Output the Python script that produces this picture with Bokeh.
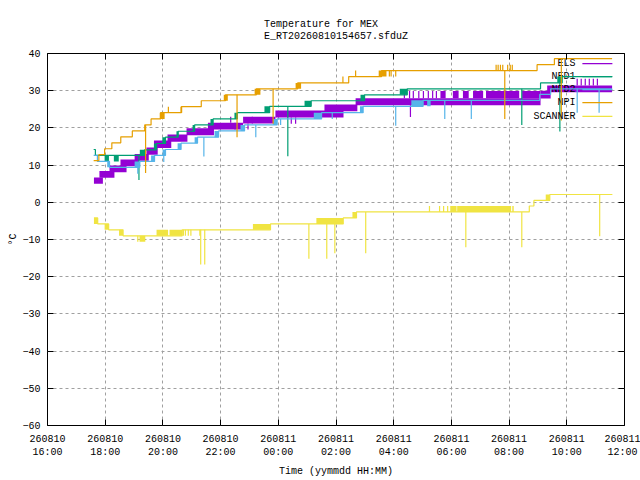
from datetime import datetime, timedelta
from bokeh.plotting import figure
from bokeh.models import Range1d, FixedTicker, LinearAxis
from bokeh.core.properties import value
from bokeh.embed import file_html
from bokeh.resources import INLINE

# ---------------- data (time = hours after 2026-08-10 16:00) ----------------
START = datetime(2026, 8, 10, 16, 0)
x_tick_hours = [0, 2, 4, 6, 8, 10, 12, 14, 16, 18, 20]
y_ticks = [-60, -50, -40, -30, -20, -10, 0, 10, 20, 30, 40]
series_names = ["ELS", "NFD1", "NFD2", "NPI", "SCANNER"]
series_colors = ["#9400D3", "#009E73", "#56B4E9", "#E69F00", "#F0E442"]

# ELS: oscillating readings, drawn as bands (t0, t1, lo, hi)
els_t0 = [1.61, 1.80, 2.15, 2.53, 3.02, 3.43, 3.69, 4.16, 4.82, 5.56, 6.78, 7.90, 9.60, 10.68,
          13.62, 14.05, 14.40, 14.75, 15.20, 16.45, 17.09, 17.32]
els_t1 = [1.92, 2.32, 2.74, 3.17, 3.51, 3.82, 4.29, 4.85, 5.77, 6.78, 7.90, 10.26, 10.74, 17.09,
          13.80, 14.25, 14.60, 15.10, 16.35, 17.09, 17.44, 19.57]
els_lo = [5.0, 6.6, 8.1, 9.7, 11.2, 12.8, 14.6, 16.3, 18.0, 19.6, 21.2, 22.8, 24.5, 26.1,
          28.0, 28.0, 28.0, 28.0, 28.0, 28.0, 27.9, 29.6]
els_hi = [6.7, 8.4, 9.9, 11.5, 13.0, 14.7, 16.6, 18.2, 19.9, 21.4, 23.0, 24.7, 26.3, 28.0,
          29.9, 29.9, 29.9, 29.9, 29.9, 29.9, 30.0, 31.4]
els_sp_t = [12.37, 12.55, 12.68, 12.87, 13.03, 13.20, 13.35, 13.48, 12.58,
            18.36, 18.50, 18.64, 18.78, 18.92, 19.06, 6.35, 6.50, 6.95, 7.10, 8.45, 8.60]
els_sp_a = [28.0, 28.0, 28.0, 28.0, 28.0, 28.0, 28.0, 28.0, 26.1,
            31.4, 31.4, 31.4, 31.4, 31.4, 31.4, 21.4, 21.4, 21.2, 21.2, 22.8, 22.8]
els_sp_b = [29.9, 29.9, 29.9, 29.9, 29.9, 29.9, 29.9, 29.9, 22.9,
            33.2, 33.2, 33.2, 33.2, 33.2, 33.2, 23.0, 19.6, 19.6, 23.0, 21.1, 21.1]

# NFD1
nfd1_t = [1.60, 1.66, 3.36, 3.78, 4.09, 4.53, 5.10, 5.74, 6.58, 7.70, 9.14, 10.99, 12.47, 17.09, 17.84, 19.57]
nfd1_v = [14.2, 12.6, 14.1, 15.8, 17.5, 19.1, 20.8, 22.4, 24.1, 25.8, 27.3, 28.9, 30.5, 32.1, 33.8, 33.8]
nfd1_b_t0 = [1.98, 2.30, 3.20, 3.69, 3.98, 4.47, 5.03, 5.65, 6.48, 7.52, 8.91, 10.85, 12.21, 17.67]
nfd1_b_t1 = [2.13, 2.47, 3.36, 3.78, 4.09, 4.53, 5.10, 5.74, 6.58, 7.70, 9.14, 10.99, 12.47, 17.84]
nfd1_b_lo = [11.0, 11.0, 12.6, 14.1, 15.8, 17.5, 19.1, 20.8, 22.4, 24.1, 25.8, 27.3, 28.9, 32.1]
nfd1_b_hi = [12.6, 12.6, 14.1, 15.8, 17.5, 19.1, 20.8, 22.4, 24.1, 25.8, 27.3, 28.9, 30.5, 33.8]
nfd1_sp_t = [3.17, 8.33, 16.44, 17.76]
nfd1_sp_a = [12.6, 25.8, 30.5, 33.8]
nfd1_sp_b = [6.0, 12.4, 20.8, 19.0]

# NFD2
nfd2_t = [1.60, 1.73, 2.15, 3.20, 3.71, 4.09, 4.63, 5.20, 5.93, 6.83, 7.96, 9.50, 10.94, 13.02, 17.06, 17.44, 19.57]
nfd2_v = [12.6, 11.0, 9.4, 11.0, 12.6, 14.2, 15.9, 17.5, 19.2, 20.8, 22.4, 24.1, 25.8, 27.4, 29.0, 30.5, 30.5]
nfd2_b_t0 = [2.07, 3.02, 3.59, 3.99, 4.51, 5.10, 5.79, 6.69, 7.82, 9.23, 10.83, 12.61, 13.16]
nfd2_b_t1 = [2.15, 3.20, 3.71, 4.09, 4.63, 5.20, 5.93, 6.83, 7.96, 9.50, 10.94, 13.02, 13.28]
nfd2_b_lo = [9.4, 9.4, 11.0, 12.6, 14.2, 15.9, 17.5, 19.2, 20.8, 22.4, 24.1, 25.8, 25.8]
nfd2_b_hi = [11.0, 11.0, 12.6, 14.2, 15.9, 17.5, 19.2, 20.8, 22.4, 24.1, 25.8, 27.4, 27.4]
nfd2_sp_t = [3.13, 4.03, 5.42, 7.22, 8.08, 9.87, 12.07, 13.77, 14.69, 18.36, 19.12]
nfd2_sp_a = [9.4, 12.6, 17.5, 20.8, 22.4, 24.1, 25.8, 27.4, 27.4, 30.5, 30.5]
nfd2_sp_b = [7.7, 10.8, 12.3, 17.5, 20.8, 22.4, 20.6, 22.4, 22.4, 24.1, 24.1]

# NPI
npi_t = [1.60, 1.78, 1.98, 2.23, 2.54, 2.94, 3.37, 3.59, 3.92, 4.64, 5.33, 6.17, 7.24, 8.67, 10.44, 11.58, 16.97, 17.57, 19.57]
npi_v = [11.2, 12.8, 14.4, 16.0, 17.6, 19.2, 20.8, 22.4, 24.1, 25.7, 27.3, 28.9, 30.5, 32.1, 33.8, 35.4, 37.0, 38.6, 38.6]
npi_b_t0 = [3.89, 4.61, 6.11, 7.18, 8.60, 11.48]
npi_b_t1 = [4.06, 4.67, 6.25, 7.38, 8.79, 11.75]
npi_b_lo = [22.4, 24.1, 27.3, 28.9, 30.5, 33.8]
npi_b_hi = [24.1, 25.7, 28.9, 30.5, 32.1, 35.4]
npi_sp_t = [3.40, 6.57, 7.82, 15.85, 17.81, 10.24, 10.68, 11.85, 11.91, 12.07, 4.19,
            15.55, 15.62, 15.70, 15.78, 15.95, 16.04, 16.11]
npi_sp_a = [20.8, 28.9, 30.5, 35.4, 38.6, 32.1, 33.8, 35.4, 35.4, 35.4, 24.1,
            35.4, 35.4, 35.4, 35.4, 35.4, 35.4, 35.4]
npi_sp_b = [7.9, 17.5, 21.1, 22.4, 22.0, 33.8, 35.4, 33.8, 33.8, 33.8, 25.7,
            37.0, 37.0, 37.0, 37.0, 37.0, 37.0, 37.0]

# SCANNER
scan_t = [1.61, 1.74, 2.12, 2.62, 4.67, 7.73, 10.25, 10.71, 16.70, 16.86, 17.41, 19.58]
scan_v = [-4.2, -5.8, -7.4, -9.0, -7.4, -5.8, -4.2, -2.6, -1.0, 0.5, 2.1, 2.1]
scan_b_t0 = [1.61, 1.98, 2.48, 3.19, 3.78, 4.23, 5.26, 7.12, 9.32, 10.57, 13.96, 14.20, 16.11, 17.27]
scan_b_t1 = [1.74, 2.12, 2.62, 3.39, 4.18, 4.67, 5.31, 7.73, 10.25, 10.71, 14.18, 16.07, 16.16, 17.41]
scan_b_lo = [-5.8, -7.4, -9.0, -10.6, -9.0, -9.0, -9.0, -7.4, -5.8, -4.2, -2.6, -2.6, -2.6, 0.5]
scan_b_hi = [-4.2, -5.8, -7.4, -9.0, -7.4, -7.4, -7.4, -5.8, -4.2, -2.6, -1.0, -1.0, -1.0, 2.1]
scan_sp_t = [3.13, 4.71, 4.78, 4.88, 4.97, 13.24, 13.59, 13.73, 13.87,
             5.31, 5.45, 9.06, 9.68, 9.96, 11.03, 14.50, 16.44, 19.14]
scan_sp_a = [-9.0, -7.4, -7.4, -7.4, -7.4, -2.6, -2.6, -2.6, -2.6,
             -7.4, -7.4, -5.8, -5.8, -5.8, -2.6, -2.6, -2.6, 2.1]
scan_sp_b = [-10.6, -9.0, -9.0, -9.0, -9.0, -1.0, -1.0, -1.0, -1.0,
             -16.7, -16.7, -15.2, -15.2, -13.7, -13.7, -12.1, -12.1, -9.1]

# ---------------- helpers ----------------
EPOCH = datetime(1970, 1, 1)


def ms(h):
    return ((START + timedelta(hours=h)) - EPOCH).total_seconds() * 1000.0


def msl(hs):
    return [ms(h) for h in hs]


FONT_NAME = "Liberation Mono"
FONT = value(FONT_NAME)

p = figure(width=640, height=480, output_backend="svg", toolbar_location=None,
           x_range=Range1d(ms(0), ms(20)), y_range=Range1d(-60, 40),
           min_border_left=47, min_border_right=16, min_border_top=53, min_border_bottom=55,
           background_fill_color="white", border_fill_color="white")

p.title.text = "Temperature for MEX\nE_RT20260810154657.sfduZ"
p.title.align = "center"
p.title.text_font = FONT_NAME
p.title.text_font_size = "10px"
p.title.text_font_style = "normal"
p.title.text_color = "black"
p.title.text_line_height = 1.05
p.title.standoff = 23

xt = msl(x_tick_hours)
xlabels = {ms(h): (START + timedelta(hours=h)).strftime("%y%m%d\n%H:%M") for h in x_tick_hours}

for ax in p.xaxis:
    ax.ticker = FixedTicker(ticks=xt)
    ax.major_label_overrides = xlabels
    ax.axis_label = "Time (yymmdd HH:MM)"
for ax in p.yaxis:
    ax.ticker = FixedTicker(ticks=y_ticks)
    ax.axis_label = "°C"

for ax in list(p.xaxis) + list(p.yaxis):
    ax.axis_line_color = None
    ax.major_tick_in = 6
    ax.major_tick_out = 0
    ax.minor_tick_line_color = None
    ax.major_tick_line_color = "black"
    ax.major_label_text_font = FONT_NAME
    ax.major_label_text_font_size = "10px"
    ax.major_label_text_color = "black"
    ax.axis_label_text_font = FONT_NAME
    ax.axis_label_text_font_size = "10px"
    ax.axis_label_text_font_style = "normal"
    ax.axis_label_text_color = "black"
p.xaxis.major_label_standoff = 8
p.xaxis.axis_label_standoff = 5
p.yaxis.major_label_standoff = 7
p.yaxis.axis_label_standoff = 0

# mirrored inward ticks on the right and top (no labels)
right = LinearAxis(ticker=FixedTicker(ticks=y_ticks),
                   major_label_overrides={t: "" for t in y_ticks},
                   axis_line_color=None, major_tick_in=6, major_tick_out=0,
                   minor_tick_line_color=None, major_label_standoff=0)
top = LinearAxis(ticker=FixedTicker(ticks=xt),
                 major_label_overrides={t: "" for t in xt},
                 axis_line_color=None, major_tick_in=6, major_tick_out=0,
                 minor_tick_line_color=None, major_label_standoff=0)
p.add_layout(right, "right")
p.add_layout(top, "above")

p.xgrid.ticker = FixedTicker(ticks=xt)
p.ygrid.ticker = FixedTicker(ticks=y_ticks)
p.grid.grid_line_color = "#a0a0a0"
p.grid.grid_line_dash = "3 3"
p.grid.grid_line_width = 1
p.outline_line_color = "black"
p.outline_line_width = 1
p.outline_line_alpha = 1

# ---------------- legend layout (gnuplot style: text right, sample line) ----------------
leg_text_h = 18.30
leg_line_h0, leg_line_h1 = 18.54, 19.58
leg_y = [37.3, 33.8, 30.3, 26.8, 23.1]

LW = 1.2


def draw(i, t=None, v=None, b=None, sp=None):
    color = series_colors[i]
    # key entry drawn just before its series (as gnuplot does)
    p.text(x=[ms(leg_text_h)], y=[leg_y[i]], text=[series_names[i]], text_align="right",
           text_baseline="middle", text_font=FONT, text_font_size="10px", text_color="black")
    p.segment(x0=[ms(leg_line_h0)], x1=[ms(leg_line_h1)], y0=[leg_y[i]], y1=[leg_y[i]],
              line_color=color, line_width=LW)
    if b is not None:
        t0, t1, lo, hi = b
        p.quad(left=msl(t0), right=msl(t1), bottom=lo, top=hi,
               fill_color=color, line_color=None)
    if t is not None:
        p.step(x=msl(t), y=v, mode="after", line_color=color, line_width=LW)
    if sp is not None:
        st, sa, sb = sp
        p.segment(x0=msl(st), x1=msl(st), y0=sa, y1=sb, line_color=color, line_width=LW)


draw(0, b=(els_t0, els_t1, els_lo, els_hi), sp=(els_sp_t, els_sp_a, els_sp_b))
draw(1, nfd1_t, nfd1_v, (nfd1_b_t0, nfd1_b_t1, nfd1_b_lo, nfd1_b_hi),
     (nfd1_sp_t, nfd1_sp_a, nfd1_sp_b))
draw(2, nfd2_t, nfd2_v, (nfd2_b_t0, nfd2_b_t1, nfd2_b_lo, nfd2_b_hi),
     (nfd2_sp_t, nfd2_sp_a, nfd2_sp_b))
draw(3, npi_t, npi_v, (npi_b_t0, npi_b_t1, npi_b_lo, npi_b_hi),
     (npi_sp_t, npi_sp_a, npi_sp_b))
draw(4, scan_t, scan_v, (scan_b_t0, scan_b_t1, scan_b_lo, scan_b_hi),
     (scan_sp_t, scan_sp_a, scan_sp_b))

open("out.html", "w").write(file_html(p, INLINE))
